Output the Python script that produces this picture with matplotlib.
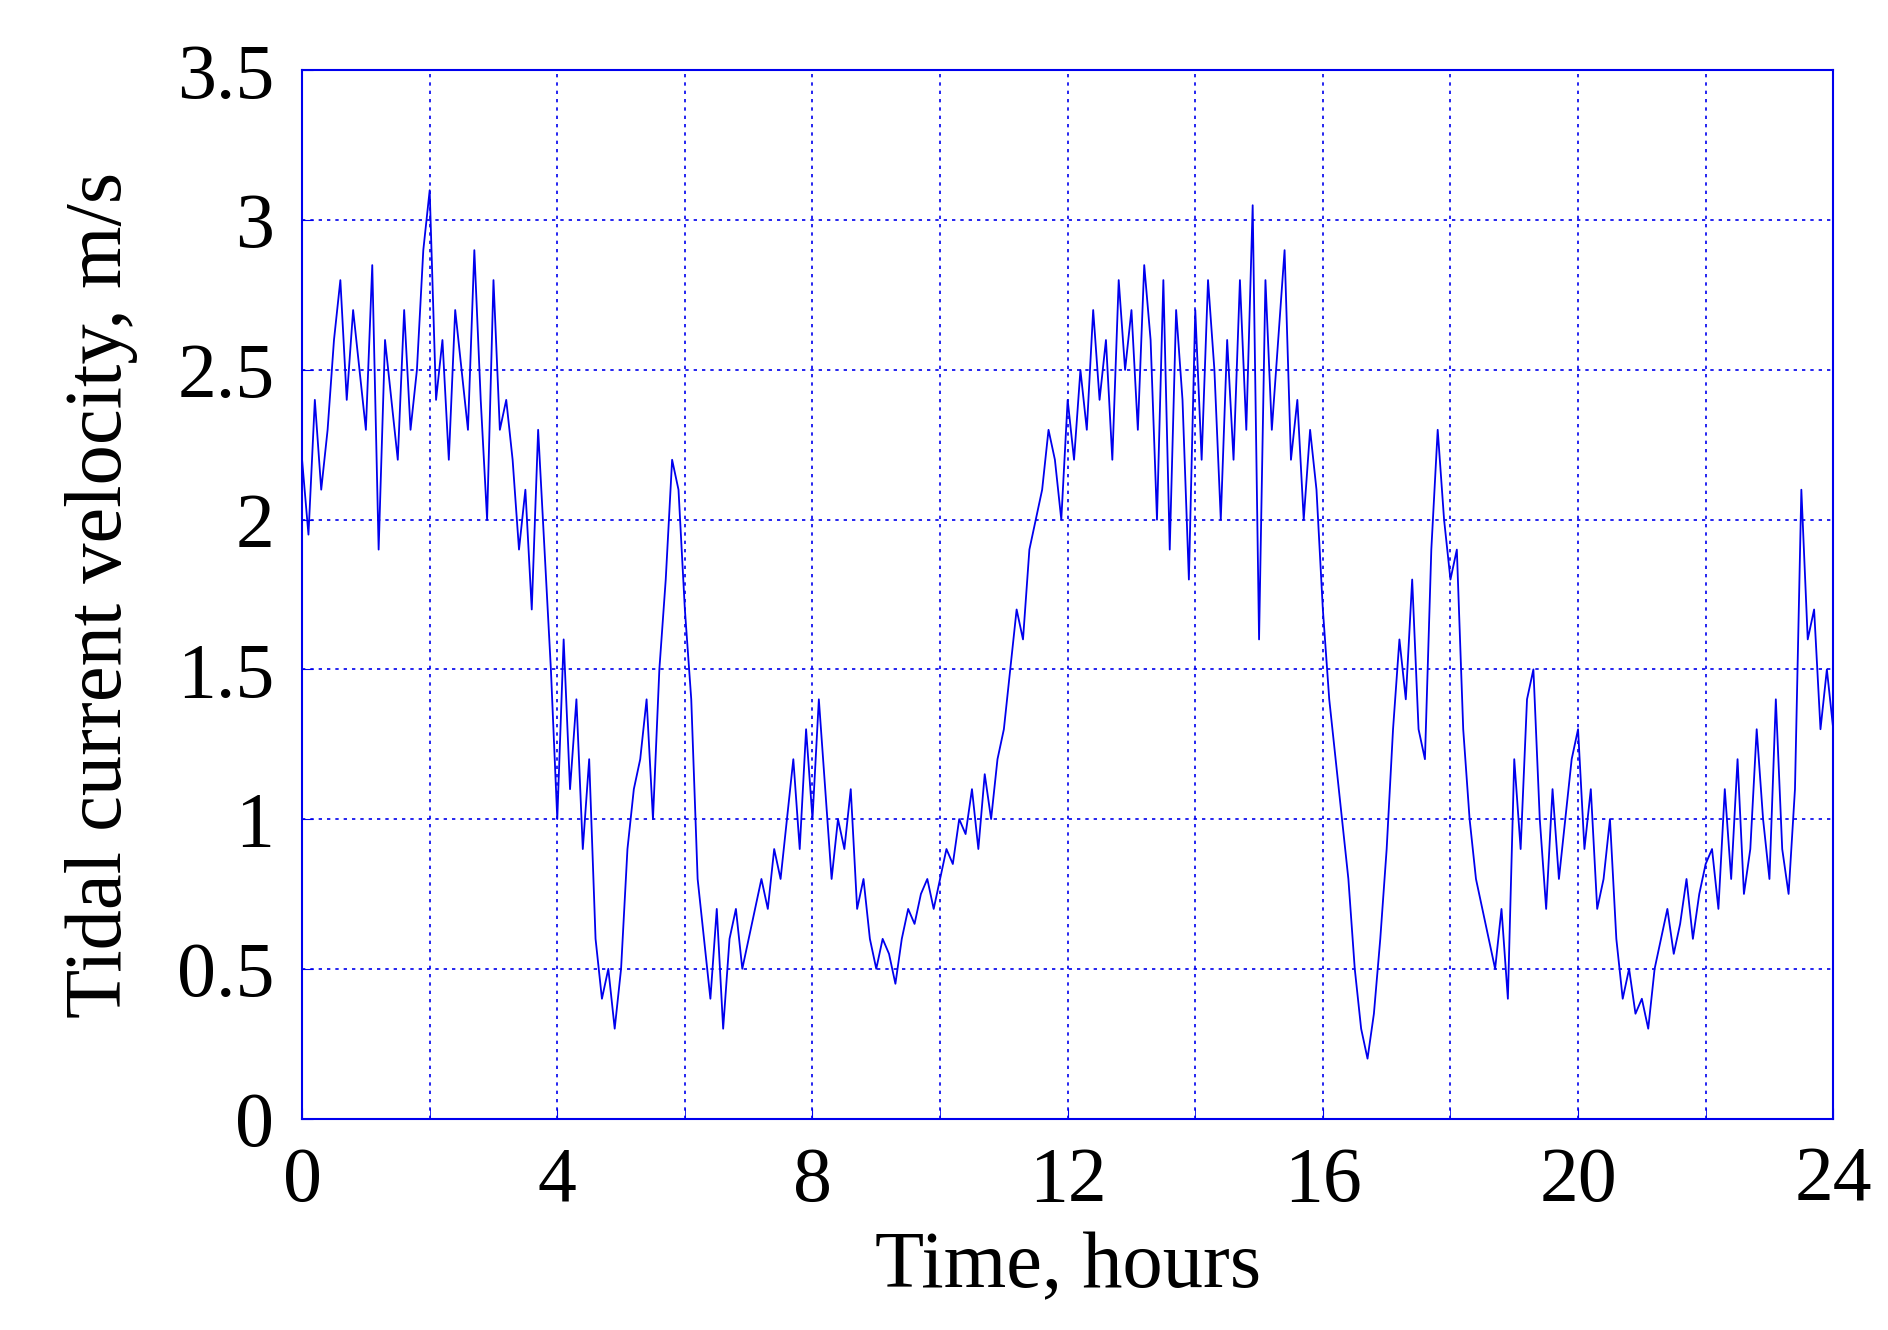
import matplotlib
matplotlib.use("Agg")
import matplotlib.pyplot as plt
import numpy as np

hours_step = 0.1
velocity = [
2.2,1.95,2.4,2.1,2.3,2.6,2.8,2.4,2.7,2.5,
2.3,2.85,1.9,2.6,2.4,2.2,2.7,2.3,2.5,2.9,
3.1,2.4,2.6,2.2,2.7,2.5,2.3,2.9,2.4,2.0,
2.8,2.3,2.4,2.2,1.9,2.1,1.7,2.3,1.9,1.5,
1.0,1.6,1.1,1.4,0.9,1.2,0.6,0.4,0.5,0.3,
0.5,0.9,1.1,1.2,1.4,1.0,1.5,1.8,2.2,2.1,
1.7,1.4,0.8,0.6,0.4,0.7,0.3,0.6,0.7,0.5,
0.6,0.7,0.8,0.7,0.9,0.8,1.0,1.2,0.9,1.3,
1.0,1.4,1.1,0.8,1.0,0.9,1.1,0.7,0.8,0.6,
0.5,0.6,0.55,0.45,0.6,0.7,0.65,0.75,0.8,0.7,
0.8,0.9,0.85,1.0,0.95,1.1,0.9,1.15,1.0,1.2,
1.3,1.5,1.7,1.6,1.9,2.0,2.1,2.3,2.2,2.0,
2.4,2.2,2.5,2.3,2.7,2.4,2.6,2.2,2.8,2.5,
2.7,2.3,2.85,2.6,2.0,2.8,1.9,2.7,2.4,1.8,
2.7,2.2,2.8,2.5,2.0,2.6,2.2,2.8,2.3,3.05,
1.6,2.8,2.3,2.6,2.9,2.2,2.4,2.0,2.3,2.1,
1.7,1.4,1.2,1.0,0.8,0.5,0.3,0.2,0.35,0.6,
0.9,1.3,1.6,1.4,1.8,1.3,1.2,1.9,2.3,2.0,
1.8,1.9,1.3,1.0,0.8,0.7,0.6,0.5,0.7,0.4,
1.2,0.9,1.4,1.5,1.0,0.7,1.1,0.8,1.0,1.2,
1.3,0.9,1.1,0.7,0.8,1.0,0.6,0.4,0.5,0.35,
0.4,0.3,0.5,0.6,0.7,0.55,0.65,0.8,0.6,0.75,
0.85,0.9,0.7,1.1,0.8,1.2,0.75,0.9,1.3,1.0,
0.8,1.4,0.9,0.75,1.1,2.1,1.6,1.7,1.3,1.5,
1.3]
time = np.arange(len(velocity)) * hours_step

blue = "#0000ee"
plt.rcParams['font.family'] = ['Liberation Serif', 'DejaVu Serif']
fig = plt.figure(figsize=(18.88, 13.3), dpi=100)
ax = fig.add_axes([0.160, 0.159, 0.811, 0.788])
ax.plot(time, velocity, color=blue, lw=1.3)
ax.set_xlim(0, 24)
ax.set_ylim(0, 3.5)
ax.set_xticks(np.arange(0, 25, 4))
ax.set_xticks(np.arange(0, 25, 2), minor=True)
ax.set_yticks(np.arange(0, 3.51, 0.5))
ax.set_yticklabels(["0", "0.5", "1", "1.5", "2", "2.5", "3", "3.5"])
ax.grid(True, which='both', color=blue, linestyle=(0, (2, 3)), lw=1.2)
for s in ax.spines.values():
    s.set_color(blue); s.set_linewidth(1.5)
ax.tick_params(which='both', direction='in', colors=blue, labelcolor='black', labelsize=56, length=8, pad=20)
ax.set_xlabel("Time, hours", fontsize=58, labelpad=10)
ax.set_ylabel("Tidal current velocity, m/s", fontsize=58, labelpad=28)
fig.savefig("out.png", dpi=100)
